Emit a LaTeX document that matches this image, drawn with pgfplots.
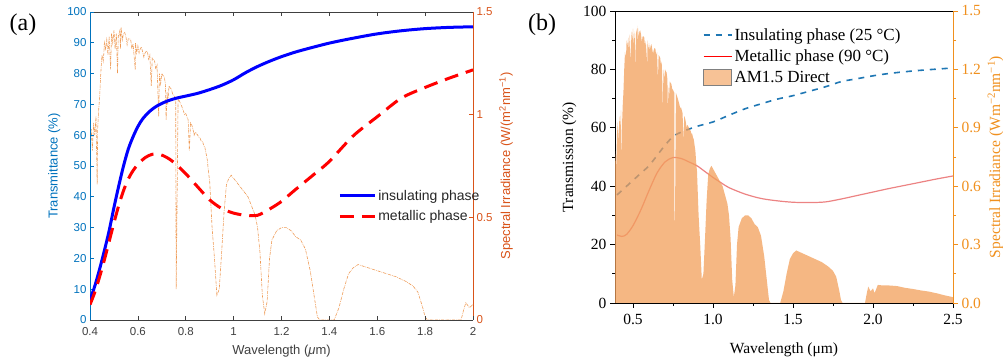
\documentclass[border=0pt]{standalone}
\usepackage{fontspec}
\usepackage{pgfplots}
\usepackage{pgfplotstable}
\pgfplotsset{compat=1.18}
\newfontfamily\sansf{Liberation Sans}
\newfontfamily\seriff{Liberation Serif}
\definecolor{mBlue}{HTML}{0072BD}
\definecolor{mOrange}{HTML}{D95319}
\definecolor{mGray}{HTML}{404040}
\definecolor{specA}{HTML}{EE9A55}
\definecolor{bOrange}{HTML}{F0901E}
\definecolor{fillB}{HTML}{F29F5A}
\definecolor{insB}{HTML}{1F77B4}
\definecolor{metB}{HTML}{E03030}

\pgfplotstableread{
x I
0.3875 0.78
0.395 0.70
0.400 0.87
0.405 0.93
0.410 0.825
0.415 0.96
0.420 0.90
0.425 0.99
0.430 0.66
0.432 0.93
0.436 1.02
0.440 1.08
0.445 1.20
0.450 1.29
0.455 1.26
0.458 1.30
0.460 1.35
0.465 1.32
0.470 1.365
0.475 1.29
0.480 1.38
0.486 1.22
0.490 1.395
0.495 1.35
0.500 1.41
0.505 1.32
0.510 1.395
0.515 1.20
0.518 1.38
0.525 1.41
0.527 1.32
0.530 1.425
0.535 1.365
0.540 1.395
0.545 1.40
0.550 1.38
0.555 1.34
0.560 1.37
0.565 1.37
0.570 1.365
0.575 1.32
0.580 1.345
0.589 1.22
0.590 1.35
0.595 1.30
0.600 1.335
0.605 1.30
0.610 1.32
0.615 1.33
0.620 1.305
0.625 1.28
0.630 1.30
0.635 1.31
0.640 1.305
0.645 1.27
0.650 1.29
0.656 1.14
0.660 1.275
0.670 1.26
0.675 1.22
0.680 1.24
0.687 0.99
0.690 1.20
0.695 1.15
0.700 1.20
0.705 1.19
0.710 1.185
0.715 1.15
0.718 0.975
0.722 1.11
0.725 1.05
0.730 1.14
0.735 1.13
0.740 1.125
0.745 1.10
0.750 1.095
0.758 1.08
0.760 0.15
0.764 0.60
0.768 1.08
0.780 1.05
0.790 1.02
0.795 1.00
0.800 1.005
0.805 0.99
0.810 0.975
0.815 0.825
0.820 0.96
0.825 0.95
0.830 0.93
0.835 0.90
0.840 0.915
0.850 0.90
0.855 0.89
0.860 0.885
0.865 0.87
0.870 0.87
0.875 0.85
0.880 0.84
0.890 0.78
0.895 0.72
0.900 0.675
0.910 0.45
0.920 0.30
0.930 0.12
0.940 0.15
0.950 0.33
0.960 0.525
0.970 0.66
0.980 0.69
0.990 0.705
1.000 0.69
1.010 0.675
1.020 0.66
1.040 0.63
1.060 0.60
1.080 0.54
1.090 0.51
1.100 0.45
1.110 0.33
1.120 0.12
1.130 0.03
1.140 0.09
1.150 0.30
1.160 0.39
1.180 0.435
1.200 0.45
1.220 0.45
1.240 0.435
1.260 0.405
1.280 0.39
1.300 0.345
1.320 0.24
1.340 0.09
1.350 0.015
1.360 0
1.420 0
1.440 0.06
1.460 0.15
1.480 0.225
1.500 0.255
1.520 0.27
1.540 0.2625
1.560 0.255
1.600 0.24
1.640 0.225
1.680 0.21
1.720 0.1875
1.750 0.165
1.770 0.135
1.790 0.06
1.800 0.015
1.810 0
1.950 0
1.960 0.045
1.970 0.084
1.985 0.06
2.000 0.075
2.010 0.051
2.030 0.093
2.060 0.09
2.100 0.09
2.150 0.087
2.200 0.078
2.250 0.072
2.300 0.0645
2.350 0.0585
2.400 0.0495
2.450 0.039
2.500 0.03
}\spectrum

\pgfplotstableread{
x T
0.40 6.5
0.42 11
0.44 16.5
0.46 22.5
0.48 29
0.50 36.5
0.52 43.5
0.54 50
0.56 55.5
0.58 59.5
0.60 62.8
0.62 65.3
0.65 67.8
0.68 69.5
0.72 71
0.76 72
0.80 72.7
0.85 73.6
0.90 74.8
0.95 76.2
1.00 78
1.05 80.3
1.10 82.3
1.15 84
1.20 85.5
1.25 86.8
1.30 87.9
1.40 89.9
1.50 91.5
1.60 92.9
1.70 93.9
1.80 94.6
1.90 95.0
2.00 95.2
}\insA

\pgfplotstableread{
x T
0.40 5
0.42 9
0.44 14
0.46 19.5
0.48 25.5
0.50 31.5
0.52 37.2
0.54 42
0.56 45.8
0.58 48.5
0.60 50.5
0.63 52.7
0.66 53.8
0.69 53.8
0.72 52.8
0.75 51.2
0.80 47.5
0.85 43.2
0.90 39
0.95 36.2
1.00 34.7
1.05 34
1.10 34
1.15 36
1.20 38.5
1.25 41.8
1.30 45
1.35 48.2
1.40 51.5
1.50 59.8
1.60 66
1.70 72
1.80 75.5
1.90 78.5
2.00 81.2
}\metA

\pgfplotstableread{
x T
0.40 37
0.45 39.5
0.50 42
0.55 44.5
0.60 47
0.65 50.5
0.70 54
0.75 57
0.80 58.5
0.90 60.5
1.00 62
1.10 64.3
1.20 66.5
1.30 68.2
1.40 69.8
1.50 71
1.60 72.5
1.70 74
1.80 75.8
1.90 76.8
2.00 77.8
2.10 78.6
2.20 79.2
2.30 79.7
2.40 80.1
2.50 80.5
}\insB

\pgfplotstableread{
x T
0.40 23.3
0.43 22.8
0.46 23.5
0.50 26.5
0.55 32
0.60 38.5
0.65 44.5
0.70 48.3
0.75 49.8
0.80 49.5
0.85 48.3
0.90 47
0.95 45
1.00 43
1.05 41.2
1.10 39.5
1.20 37.3
1.30 35.8
1.40 35
1.50 34.5
1.60 34.4
1.70 34.6
1.80 35.6
1.90 36.8
2.00 38
2.10 39.2
2.20 40.3
2.30 41.4
2.40 42.5
2.50 43.5
}\metB

\begin{document}
\begin{tikzpicture}
\path[use as bounding box] (0,0) rectangle (1003pt,363pt);

% ---------------- panel (a): right axis (spectrum) ----------------
\begin{axis}[
  at={(90pt,43pt)}, anchor=south west, scale only axis,
  width=383pt, height=308pt,
  xmin=0.4, xmax=2, ymin=0, ymax=1.5,
  axis x line*=top, axis y line*=right,
  xtick={0.4,0.6,0.8,1,1.2,1.4,1.6,1.8,2}, xticklabels={},
  ytick={0,0.5,1,1.5},
  tick align=inside, major tick length=4pt,
  x axis line style={draw=mGray, line width=0.6pt},
  y axis line style={draw=mOrange, line width=0.6pt},
  xtick style={draw=mGray, line width=0.6pt},
  ytick style={draw=mOrange, line width=0.6pt},
  /pgf/number format/assume math mode=true,
  yticklabel style={font=\sansf\fontsize{11.5}{13}\selectfont, text=mOrange},
  ylabel={Spectral Irradiance (W/(m\textsuperscript{2}nm\textsuperscript{−1})},
  ylabel style={font=\sansf\fontsize{13}{15}\selectfont, text=mOrange},
]
\addplot[specA, line width=0.6pt, densely dashdotted] table[x=x,y=I]{\spectrum};
\end{axis}

% ---------------- panel (a): left axis (transmittance) ----------------
\begin{axis}[
  at={(90pt,43pt)}, anchor=south west, scale only axis,
  width=383pt, height=308pt,
  xmin=0.4, xmax=2, ymin=0, ymax=100,
  axis x line*=bottom, axis y line*=left,
  xtick={0.4,0.6,0.8,1,1.2,1.4,1.6,1.8,2},
  ytick={0,10,20,30,40,50,60,70,80,90,100},
  tick align=inside, major tick length=4pt,
  x axis line style={draw=mGray, line width=0.6pt},
  y axis line style={draw=mBlue, line width=0.6pt},
  xtick style={draw=mGray, line width=0.6pt},
  ytick style={draw=mBlue, line width=0.6pt},
  /pgf/number format/assume math mode=true,
  xticklabel style={font=\sansf\fontsize{11.5}{13}\selectfont, text=mGray, yshift=-4pt},
  yticklabel style={font=\sansf\fontsize{11.5}{13}\selectfont, text=mBlue},
  xlabel={Wavelength (\textit{μ}m)},
  ylabel={Transmittance (\%)},
  xlabel style={font=\sansf\fontsize{13}{15}\selectfont, text=mGray, yshift=-3pt},
  ylabel style={font=\sansf\fontsize{13}{15}\selectfont, text=mBlue},
  legend style={draw=none, fill=none, at={(0.640,0.436)}, anchor=north west,
    font=\sansf\fontsize{14}{16}\selectfont, text=black!85, row sep=5pt},
  legend cell align=left,
  legend image code/.code={\draw[#1] (-5pt,0pt) -- (30pt,0pt);},
]
\addplot[blue, line width=3pt, smooth] table[x=x,y=T]{\insA};
\addlegendentry{insulating phase}
\addplot[red, line width=3pt, smooth, dash pattern=on 14pt off 8pt] table[x=x,y=T]{\metA};
\addlegendentry{metallic phase}
\end{axis}

\node[font=\seriff\fontsize{24}{28}\selectfont] at (23pt,338pt) {(a)};

% ---------------- panel (b): left axis (transmission) ----------------
\begin{axis}[
  at={(615pt,60pt)}, anchor=south west, scale only axis,
  width=338pt, height=292pt,
  xmin=0.3875, xmax=2.5, ymin=0, ymax=100,
  axis x line*=bottom, axis y line*=left,
  xtick={0.5,1,1.5,2,2.5}, minor x tick num=1,
  ytick={0,20,40,60,80,100}, minor y tick num=1,
  tick align=outside, major tick length=5pt, minor tick length=3pt,
  axis line style={black, line width=0.8pt},
  tick style={black, line width=0.8pt},
  /pgf/number format/assume math mode=true,
  xticklabel style={font=\seriff\fontsize{15.5}{18}\selectfont, yshift=-3pt,
    /pgf/number format/fixed, /pgf/number format/fixed zerofill, /pgf/number format/precision=1},
  yticklabel style={font=\seriff\fontsize{15.5}{18}\selectfont},
  xlabel={Wavelength (μm)},
  ylabel={Transmission (\%)},
  label style={font=\seriff\fontsize{15.5}{18}\selectfont},
  xlabel style={yshift=-11pt},
]
\addplot[insB, line width=1.6pt, smooth, dash pattern=on 6pt off 6pt] table[x=x,y=T]{\insB};
\addplot[metB, line width=1.2pt, smooth, draw opacity=0.6] table[x=x,y=T]{\metB};
\end{axis}

% ---------------- panel (b): right axis (spectrum) ----------------
\begin{axis}[
  at={(615pt,60pt)}, anchor=south west, scale only axis,
  width=338pt, height=292pt,
  xmin=0.3875, xmax=2.5, ymin=0, ymax=1.5,
  axis x line*=box, axis y line*=right,
  xtick=\empty,
  ytick={0,0.3,0.6,0.9,1.2,1.5}, minor y tick num=1,
  tick align=outside, major tick length=5pt, minor tick length=3pt,
  x axis line style={black, line width=0.8pt},
  y axis line style={bOrange, line width=0.8pt},
  ytick style={bOrange, line width=0.8pt},
  axis on top,
  /pgf/number format/assume math mode=true,
  yticklabel style={font=\seriff\fontsize{15.5}{18}\selectfont, text=bOrange,
    /pgf/number format/fixed, /pgf/number format/fixed zerofill, /pgf/number format/precision=1},
  ylabel={Spectral Irradiance (Wm\textsuperscript{−2}nm\textsuperscript{−1})},
  ylabel style={font=\seriff\fontsize{15.5}{18}\selectfont, text=bOrange},
  legend style={draw=none, fill=none, at={(0.25,0.955)}, anchor=north west,
    font=\seriff\fontsize{17}{19}\selectfont, row sep=4pt},
  legend cell align=left,
  legend image code/.code={\draw[#1] (0pt,0pt) -- (28pt,0pt);},
]
\addlegendimage{draw=insB, line width=1.8pt, dash pattern=on 6pt off 6pt}
\addlegendentry{Insulating phase (25 °C)}
\addlegendimage{draw=red, line width=1.5pt}
\addlegendentry{Metallic phase (90 °C)}
\addplot[fill=fillB, fill opacity=0.75, draw=none,
  legend image code/.code={\draw[fill=fillB!85!white, draw=gray, line width=0.6pt] (0pt,-8pt) rectangle (28pt,8pt);}]
  table[x=x,y=I]{\spectrum} \closedcycle;
\addlegendentry{AM1.5 Direct}
\end{axis}

\node[font=\seriff\fontsize{24}{28}\selectfont] at (542pt,338pt) {(b)};
\end{tikzpicture}
\end{document}
